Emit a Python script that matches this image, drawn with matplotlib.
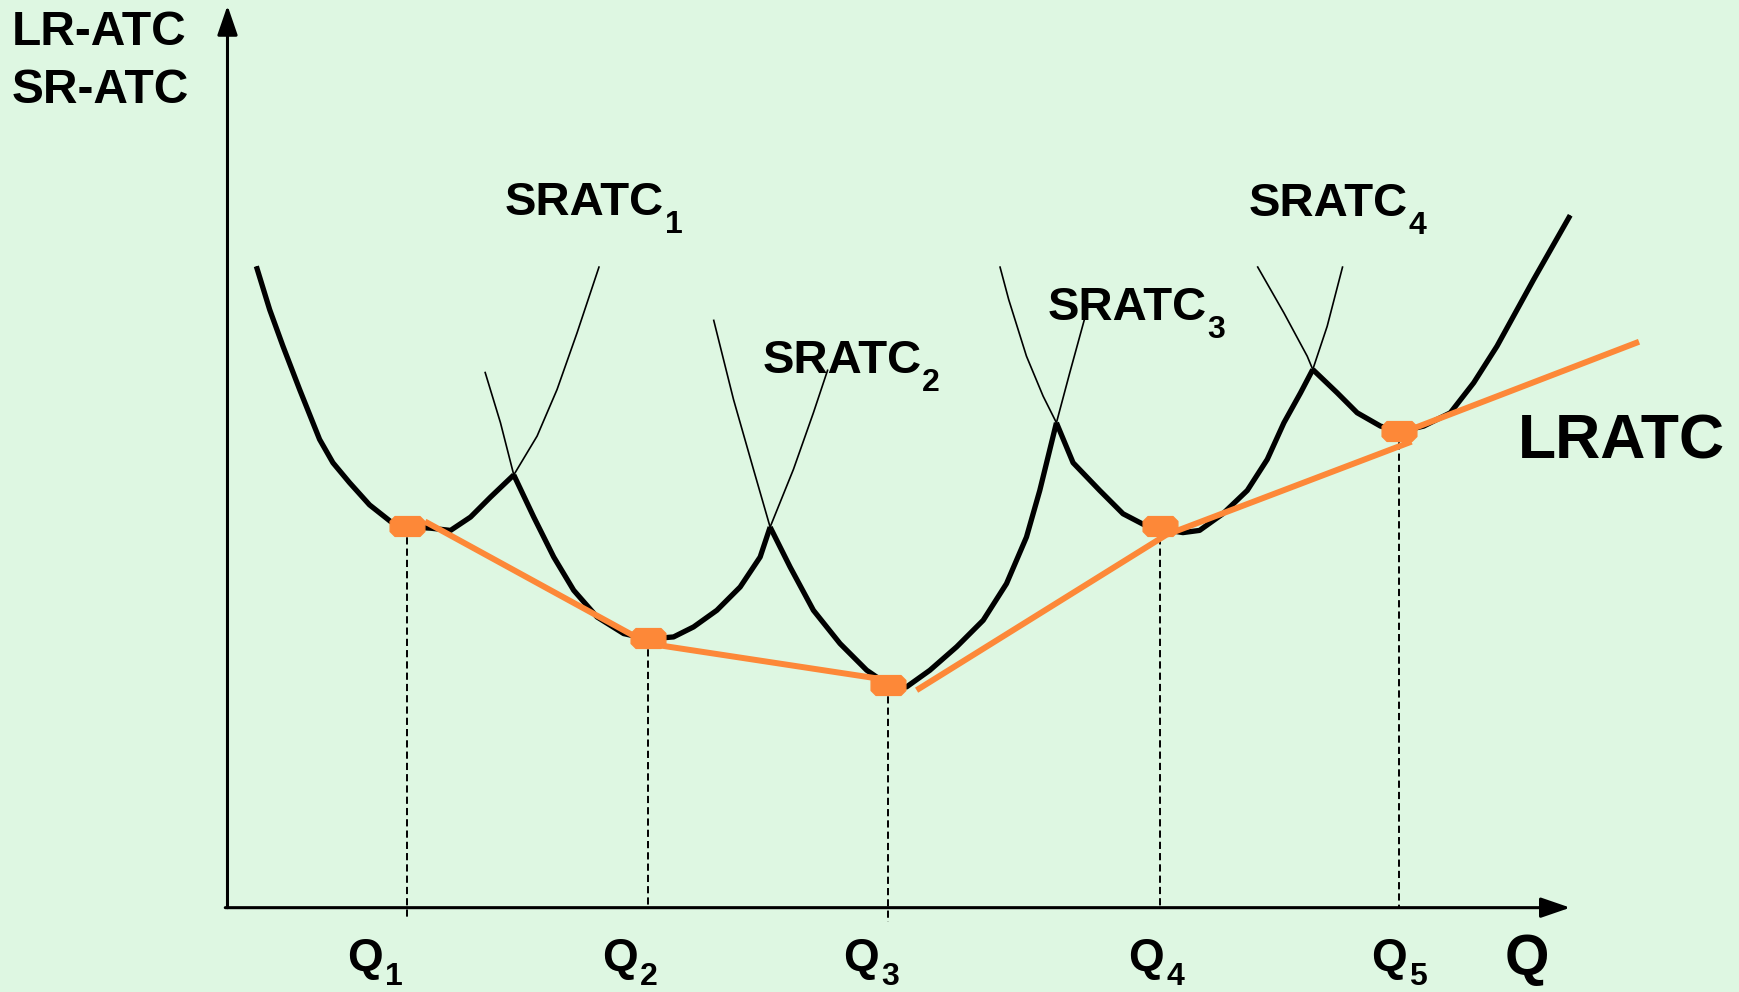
import matplotlib
matplotlib.use("Agg")
import matplotlib.pyplot as plt
import numpy as np
from matplotlib.path import Path

plt.rcParams["font.family"] = ["Liberation Sans", "DejaVu Sans"]

# ----------------------- data (Q, cost) -----------------------
sratc1_q = [0.26, 0.38, 0.50, 0.65, 0.83, 0.95, 1.10, 1.28, 1.47, 1.65, 1.83, 2.01, 2.19,
            2.37, 2.58, 2.79, 2.97, 3.15, 3.35]
sratc1_c = [5.78, 5.39, 5.06, 4.67, 4.22, 4.01, 3.83, 3.63, 3.48, 3.43, 3.42, 3.40, 3.52,
            3.70, 3.90, 4.25, 4.67, 5.18, 5.78]

sratc2_q = [2.32, 2.46, 2.58, 2.76, 2.94, 3.12, 3.33, 3.57, 3.79, 4.02, 4.20, 4.41, 4.62,
            4.80, 4.89, 5.10, 5.28, 5.41]
sratc2_c = [4.83, 4.37, 3.90, 3.52, 3.16, 2.86, 2.62, 2.47, 2.42, 2.44, 2.53, 2.68, 2.89,
            3.16, 3.43, 3.95, 4.46, 4.85]

sratc3_q = [4.38, 4.56, 4.74, 4.89, 5.07, 5.28, 5.52, 5.76, 5.95, 6.12, 6.33, 6.57, 6.81,
            7.02, 7.20, 7.32, 7.47, 7.59, 7.73]
sratc3_c = [5.30, 4.58, 3.95, 3.43, 3.07, 2.68, 2.38, 2.14, 2.01, 1.99, 2.14, 2.35, 2.59,
            2.92, 3.34, 3.76, 4.37, 4.82, 5.33]

sratc4_q = [6.96, 7.04, 7.20, 7.35, 7.47, 7.62, 7.86, 8.07, 8.30, 8.61, 8.76, 8.97, 9.19,
            9.37, 9.52, 9.67, 9.78, 9.91, 10.05]
sratc4_c = [5.78, 5.48, 4.97, 4.61, 4.37, 4.01, 3.76, 3.55, 3.43, 3.38, 3.40, 3.55, 3.76,
            4.04, 4.37, 4.64, 4.85, 5.24, 5.78]

sratc5_q = [9.28, 9.52, 9.73, 9.78, 10.00, 10.18, 10.39, 10.57, 10.78, 11.02, 11.23, 11.44,
            11.77, 12.10]
sratc5_c = [5.78, 5.36, 4.97, 4.85, 4.64, 4.46, 4.34, 4.29, 4.34, 4.46, 4.73, 5.06,
            5.66, 6.24]

# where neighbouring short-run curves cross (envelope kinks)
kink_q = [2.58, 4.89, 7.47, 9.78]

# long-run ATC, drawn as three straight pieces
lratc_a_q = [1.78, 3.79, 5.96]
lratc_a_c = [3.48, 2.38, 2.05]
lratc_b_q = [6.21, 8.46, 10.67]
lratc_b_c = [1.96, 3.36, 4.20]
lratc_c_q = [10.56, 12.72]
lratc_c_c = [4.27, 5.10]

# tangency points Q1..Q5
tangent_q = [1.62, 3.79, 5.95, 8.40, 10.56]
tangent_c = [3.44, 2.43, 2.01, 3.44, 4.30]
q_labels = ["1", "2", "3", "4", "5"]
sratc_labels = ["1", "2", "3", "4"]

# ----------------------- layout -----------------------
BG = "#DEF7E2"
ORANGE = "#FD8838"
q_label_x = [1.08, 3.38, 5.55, 8.12, 10.31]
dash_bottom = [-0.10, 0.0, -0.13, 0.0, 0.0]
sratc_label_xy = [(2.50, 6.24), (4.82, 4.82), (7.39, 5.30), (9.20, 6.23)]

fig = plt.figure(figsize=(17.4, 9.92), dpi=100, facecolor=BG)
ax = fig.add_axes([0, 0, 1, 1])
ax.set_facecolor(BG)
ax.set_xlim(-2.05, 13.63)
ax.set_ylim(-0.76, 8.18)
ax.axis("off")

# axes with arrow heads
arrow = dict(arrowstyle="-|>,head_length=1.8,head_width=0.62", lw=2.2,
             color="black", shrinkA=0, shrinkB=0)
ax.annotate("", xy=(0, 8.13), xytext=(0, 0), arrowprops=arrow)
ax.annotate("", xy=(12.10, 0), xytext=(-0.02, 0), arrowprops=arrow)

# short-run curves: thin full curve, thick where it forms the envelope
curves = [(sratc1_q, sratc1_c), (sratc2_q, sratc2_c), (sratc3_q, sratc3_c),
          (sratc4_q, sratc4_c), (sratc5_q, sratc5_c)]
bounds = [-np.inf] + kink_q + [np.inf]
for i, (q, c) in enumerate(curves):
    q = np.array(q)
    c = np.array(c)
    ax.plot(q, c, color="black", lw=1.2, solid_capstyle="butt",
            solid_joinstyle="round", zorder=3)
    m = (q >= bounds[i] - 1e-9) & (q <= bounds[i + 1] + 1e-9)
    ax.plot(q[m], c[m], color="black", lw=3.8, solid_capstyle="butt",
            solid_joinstyle="round", zorder=4)

# long-run ATC
for q, c in [(lratc_a_q, lratc_a_c), (lratc_b_q, lratc_b_c), (lratc_c_q, lratc_c_c)]:
    ax.plot(q, c, color=ORANGE, lw=4.3, solid_capstyle="butt", zorder=5)

# dashed drops to the Q axis
for q, c, b in zip(tangent_q, tangent_c, dash_bottom):
    ax.plot([q, q], [c, b], color="black", lw=1.4, ls=(0, (3.7, 2.1)), zorder=2)

# octagon markers
oct_marker = Path([(-0.72, -0.57), (0.72, -0.57), (1, -0.29), (1, 0.29),
                   (0.72, 0.57), (-0.72, 0.57), (-1, 0.29), (-1, -0.29),
                   (-0.72, -0.57)], closed=True)
ax.plot(tangent_q, tangent_c, ls="none", marker=oct_marker, ms=25,
        mfc=ORANGE, mec=ORANGE, zorder=6)

# texts
bold = dict(fontweight="bold", color="black", ha="left", va="baseline")
ax.text(-1.946, 7.773, "LR-ATC", fontsize=34.5, **bold)
ax.text(-1.946, 7.255, "SR-ATC", fontsize=34.5, **bold)

for (x, y), s in zip(sratc_label_xy, sratc_labels):
    ax.text(x, y, "SRATC", fontsize=34, zorder=7, **bold)
    ax.text(x + 1.44, y - 0.163, s, fontsize=23, zorder=7, **bold)

ax.text(11.63, 4.05, "LRATC", fontsize=45, **bold)

for x, s in zip(q_label_x, q_labels):
    ax.text(x, -0.567, "Q", fontsize=33, **bold)
    ax.text(x + 0.34, -0.70, s, fontsize=23, **bold)
ax.text(11.51, -0.606, "Q", fontsize=41, **bold)

fig.savefig("out.png", dpi=100, facecolor=BG)
